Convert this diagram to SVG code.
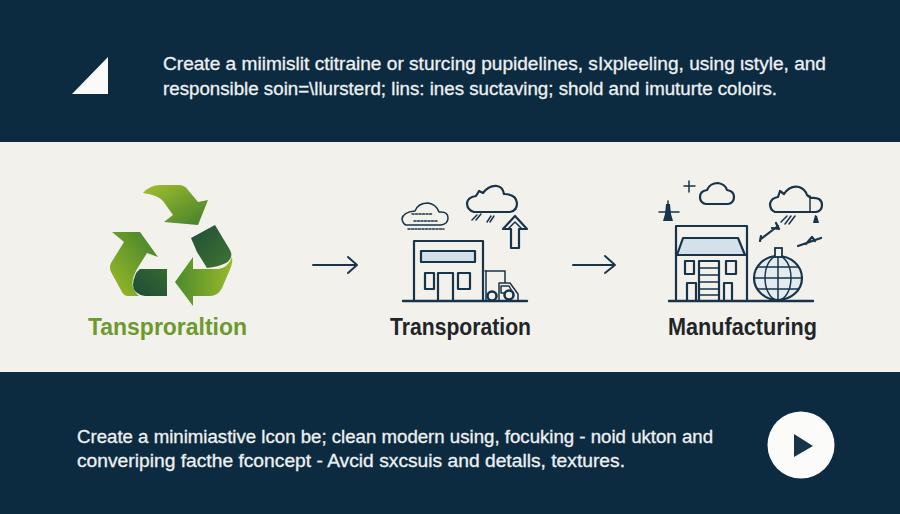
<svg xmlns="http://www.w3.org/2000/svg" width="900" height="514" viewBox="0 0 900 514">
<style>
.t{font-family:"Liberation Sans",Arial,sans-serif;font-size:18.5px;fill:#eef1f3;font-weight:400;stroke:#eef1f3;stroke-width:.3}
.f{font-size:17.800px}
.l{font-family:"Liberation Sans",Arial,sans-serif;font-size:23px;font-weight:700}
.i{fill:none;stroke:#17344a;stroke-width:2.2;stroke-linejoin:round;stroke-linecap:round}
.n{fill:none;stroke:#17344a;stroke-width:1.5;stroke-linejoin:round;stroke-linecap:round}
.b{fill:#d5e1ea;stroke:#17344a;stroke-width:2.2;stroke-linejoin:round}
.c{fill:none;stroke:#17344a;stroke-width:2.4;stroke-linecap:round;stroke-linejoin:round}
</style>
<defs>
<linearGradient id="g1" x1="0" y1="0" x2="1" y2="1"><stop offset="0" stop-color="#a4c02c"/><stop offset="1" stop-color="#417f2c"/></linearGradient>
<linearGradient id="g2" x1="1" y1="0" x2="0" y2="1"><stop offset="0" stop-color="#3f7f2c"/><stop offset="1" stop-color="#9dbc28"/></linearGradient>
<linearGradient id="g3" x1="0" y1="0.5" x2="1" y2="0.5"><stop offset="0" stop-color="#4b8a2c"/><stop offset="1" stop-color="#98b92a"/></linearGradient>
<linearGradient id="d1" x1="0" y1="0" x2="1" y2="1"><stop offset="0" stop-color="#1f4d38"/><stop offset="1" stop-color="#3f7530"/></linearGradient>
<linearGradient id="d2" x1="0" y1="1" x2="1" y2="0"><stop offset="0" stop-color="#1c4a38"/><stop offset="1" stop-color="#37692f"/></linearGradient>
</defs>
<rect width="900" height="514" fill="#0d2b40"/>
<rect y="142" width="900" height="230" fill="#f3f1ec"/>
<g id="header">
<polygon points="72,94 108,94 108,57" fill="#fafafa"/>
<text class="t" x="163" y="70" textLength="663" lengthAdjust="spacingAndGlyphs">Create a miimislit ctitraine or sturcing pupidelines, sIxpleeling, using ιstyle, and</text>
<text class="t" x="163" y="94.500" textLength="614" lengthAdjust="spacingAndGlyphs">responsible soin=\llursterd; lins: ines suctaving; shold and imuturte coloirs.</text>
</g>
<g id="connectors" fill="none" stroke="#17344a" stroke-width="1.9" stroke-linecap="round" stroke-linejoin="round">
<path d="M313 265H357M348 257L357 265L348 273"/>
<path d="M573 265H615M605 256L615 265L605 273"/>
</g>
<g id="node-recycle">
<path d="M143 193Q150 185 160 185H178Q185 185 188 190L198 202L208 200L198 225L164 222L173 215L163 201Q158 195 143 193Z" fill="url(#g1)"/>
<path d="M112 232H140L158 257L147 253L137 269Q131 280 133 287Q135 293 139 296H128Q124 296 122 292L111 272Q109 267 111 263L124 242Z" fill="url(#g2)"/>
<path d="M167 269V296H145Q133 294 133 285Q134 273 140 269Z" fill="url(#d2)"/>
<path d="M191 238L215 225L230 250Q234 258 226 263Q218 267 207 268L197 252Z" fill="url(#d1)"/>
<path d="M193 257V269H218Q228 268 232 257Q233 262 231 267L222 288Q218 296 210 296H193V306L175 282Z" fill="url(#g3)"/>
<text class="l" x="88" y="335" textLength="159" lengthAdjust="spacingAndGlyphs" fill="#6c9a2e">Tansproraltion</text>
</g>
<g id="node-transportation">
<path class="c" d="M403 301H527"/>
<path class="i" d="M414 301V241H483V301"/>
<rect class="b" x="421" y="251" width="54" height="11" stroke-width="1.8"/>
<path class="i" d="M438 301V273H453V301M425 273H434V289H425ZM458 273H470V289H458Z"/>
<path class="n" d="M485 271H505V283M499 301V283H510L518 294V300"/>
<path class="n" d="M486 300V271M501 286H509L513 293H501Z"/>
<circle cx="492" cy="296" r="4.500" fill="#f3f1ec" stroke="#17344a" stroke-width="2.6"/>
<circle cx="509" cy="295" r="4.500" fill="#f3f1ec" stroke="#17344a" stroke-width="2.6"/>
<path class="n" d="M406 225H441Q448 224 448 218Q448 212 441 212H439Q436 204 428 203Q418 203 415 211Q403 212 402 219Q403 224 406 225Z"/>
<path class="n" stroke-dasharray="2 1.500" d="M412 214H432M414 221H438M408 229H444"/>
<path class="i" d="M474 212Q467 210 467 203Q468 197 476 196L479 191L483 193Q489 185 497 186Q503 187 504 194Q516 194 517 203Q517 211 510 212Z"/>
<path class="n" d="M477 215L472 220M481 214L476 220M491 216L487 222M494 216L490 222"/>
<path class="i" d="M515 216L503 229H511V248H519V229H527Z"/>
<path class="n" d="M515 222L508 229M515 222L522 229"/>
<text class="l" x="390" y="335" textLength="141" lengthAdjust="spacingAndGlyphs" fill="#1f2528">Transporation</text>
</g>
<g id="node-manufacturing">
<path class="c" d="M669 301H813"/>
<path class="i" d="M676 301V226H747V301"/>
<polygon class="b" points="683,238 738,238 745,255 677,255"/>
<path class="i" d="M676 255H747M685 261H694V274H685ZM726 261H736V274H726ZM687 301V283H696V301M724 301V283H732V301"/>
<path class="i" d="M699 301V261H719V301"/>
<path class="n" d="M699 268H719M699 275H719M699 282H719M699 289H719M699 295H719"/>
<ellipse cx="778" cy="278" rx="24" ry="22" fill="#e4ebef" stroke="#17344a" stroke-width="2.200"/>
<ellipse cx="778" cy="278" rx="13" ry="22" class="n"/>
<path class="n" d="M778 256V300M755 278H802M758 267H798M758 289H798"/>
<rect x="775" y="248" width="7" height="9" fill="#f3f1ec" stroke="#17344a" stroke-width="1.8"/>
<path class="n" d="M684 186H695M689 181V192"/>
<path class="i" d="M706 204Q700 203 700 197Q700 191 707 190Q710 183 718 183Q725 184 727 190Q734 191 734 197Q734 203 728 204Z"/>
<path class="i" d="M775 212Q770 210 770 204Q771 198 778 197L780 191L784 194Q790 185 799 187Q805 189 807 195L811 198Q822 197 822 205Q822 211 816 212Z"/>
<path class="n" d="M810 196V212"/>
<path class="n" d="M787 216L781 222M791 216L785 224M795 216L789 224"/>
<path d="M815 215L817 216L819 223H813Z" fill="#17344a"/>
<path class="n" d="M668 201V220M659 212H679"/>
<path d="M666 204H670L671 214L673 221H663L665 214Z" fill="#17344a"/>
<path class="i" d="M761 239L778 226M776 223L779 229L772 228M761 236L760 241"/>
<path class="i" d="M798 246L821 238M806 244L812 237L815 241"/>
<text class="l" x="668" y="335" textLength="149" lengthAdjust="spacingAndGlyphs" fill="#1f2528">Manufacturing</text>
</g>
<g id="footer">
<text class="t f" x="77" y="442.500" textLength="636" lengthAdjust="spacingAndGlyphs">Create a minimiastive lcon be; clean modern using, focuking - noid ukton and</text>
<text class="t f" x="77" y="467" textLength="548" lengthAdjust="spacingAndGlyphs">converiping facthe fconcept - Avcid sxcsuis and detalls, textures.</text>
<circle cx="801" cy="445" r="33.500" fill="#fbfbfa"/>
<polygon points="794,434 813,446 794,457" fill="#17344a"/>
</g>
</svg>
